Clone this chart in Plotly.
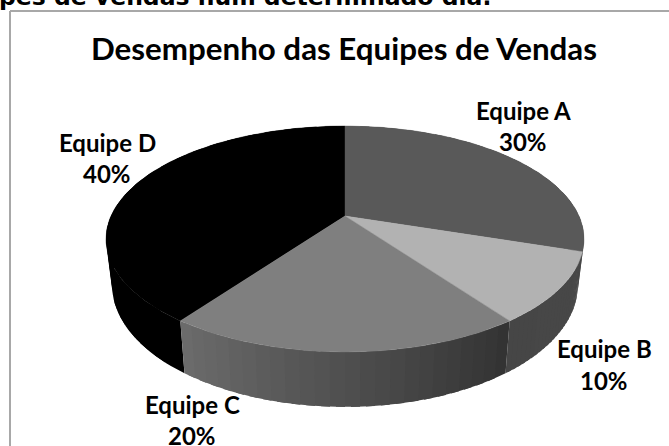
import math
import plotly.graph_objects as go

teams = ["Equipe A", "Equipe B", "Equipe C", "Equipe D"]
shares = [30, 10, 20, 40]
top_colors = ["#595959", "#b2b2b2", "#7f7f7f", "#000000"]
rim_left = [(0x50,)*3, (0x48,)*3, (0x6c,)*3, (0, 0, 0)]
rim_right = [(0x50,)*3, (0x46,)*3, (0x32,)*3, (0, 0, 0)]
label_pos = [(523, 110, 141), (604, 348, 380), (192, 404, 435), (107, 142, 173)]

CX, CY, RX, RY, K, DROP, NARROW = 345, 216, 234, 108.3, 0.2035, 43.8, 0.975


def project(turn, lower=False):
    a = 2 * math.pi * turn
    px, py = math.sin(a), -math.cos(a)
    w = 1 - K * py
    if lower:
        return CX + NARROW * RX * px / w, CY + (RY * py + DROP) / w
    return CX + RX * px / w, CY + RY * py / w


def turns(t0, t1, step=0.004):
    n = max(2, int(abs(t1 - t0) / step) + 1)
    return [t0 + (t1 - t0) * i / n for i in range(n + 1)]


def hexc(c):
    return "#%02x%02x%02x" % tuple(int(round(v)) for v in c)


total = sum(shares)
edges = [0]
for s in shares:
    edges.append(edges[-1] + s / total)

fig = go.Figure()


def poly(pts, color, lw=0.0):
    fig.add_trace(go.Scatter(
        x=[p[0] for p in pts] + [pts[0][0]], y=[p[1] for p in pts] + [pts[0][1]],
        mode="lines", fill="toself", fillcolor=color,
        line=dict(color=color, width=lw), hoverinfo="skip", showlegend=False))


# rims, back to front: D, A, B, C
for idx in (3, 0, 1, 2):
    t0, t1 = edges[idx], edges[idx + 1]
    strips = 24
    for j in range(strips):
        s0 = t0 + (t1 - t0) * j / strips
        s1 = t0 + (t1 - t0) * (j + 1) / strips
        if j < strips - 1:
            s1 += (t1 - t0) / strips * 0.6
        f = (j + 0.5) / strips
        if idx == 2:  # screen direction of C runs right to left
            col = [rim_right[2][c] + (rim_left[2][c] - rim_right[2][c]) * f for c in range(3)]
        else:
            col = [rim_left[idx][c] + (rim_right[idx][c] - rim_left[idx][c]) * f for c in range(3)]
        ts = turns(s0, s1)
        pts = [project(t) for t in ts] + [project(t, True) for t in reversed(ts)]
        poly(pts, hexc(col), 0)

# top faces
for idx in (3, 0, 1, 2):
    pts = [(CX, CY)] + [project(t) for t in turns(edges[idx], edges[idx + 1])]
    poly(pts, top_colors[idx], 0.4)

ann = []
label_font = dict(family="Lato", size=24, color="#000000", weight="bold")
for name, share, (x, y1, y2) in zip(teams, shares, label_pos):
    ann.append(dict(x=x, y=y1, text=name, showarrow=False, xanchor="center", yanchor="middle",
                    font=label_font))
    ann.append(dict(x=x, y=y2, text=f"{share}%", showarrow=False, xanchor="center", yanchor="middle",
                    font=label_font))
ann.append(dict(x=344, y=48, text="Desempenho das Equipes de Vendas", showarrow=False,
                xanchor="center", yanchor="middle",
                font=dict(family="Lato", size=31.3, color="#000000", weight="bold")))
ann.append(dict(x=0, y=0, text="pes de vendas num determinado dia:", showarrow=False,
                xanchor="left", yanchor="middle", xshift=-3, yshift=3,
                font=dict(family="DejaVu Sans", size=23.5, color="#000000", weight="bold")))

fig.update_layout(
    width=669, height=446, margin=dict(l=0, r=0, t=0, b=0),
    paper_bgcolor="#ffffff", plot_bgcolor="#ffffff",
    xaxis=dict(range=[0, 669], visible=False, fixedrange=True),
    yaxis=dict(range=[446, 0], visible=False, fixedrange=True),
    annotations=ann,
    shapes=[
        dict(type="line", x0=10, x1=10, y0=11, y1=446, line=dict(color="#a8a8a8", width=2)),
        dict(type="line", x0=10, x1=669, y0=11, y1=11, line=dict(color="#a8a8a8", width=2)),
    ],
)
fig.write_html("out.html", config={"displayModeBar": False},
               post_script="document.body.style.margin='0';document.documentElement.style.overflow='hidden';")
